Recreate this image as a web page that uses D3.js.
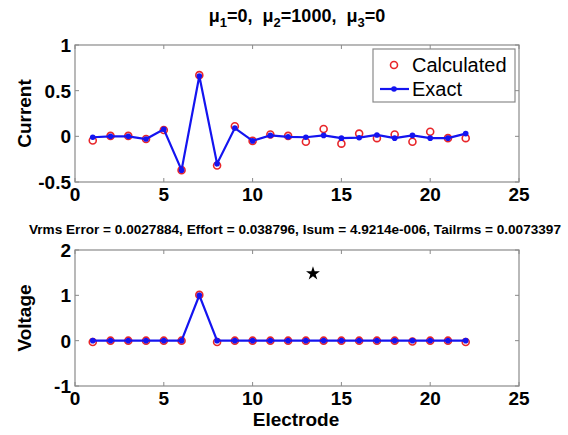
<!DOCTYPE html>
<html><head><meta charset="utf-8">
<script src="https://cdn.jsdelivr.net/npm/d3@7"></script>
<style>
body{margin:0;background:#fff;}
text{font-family:"Liberation Sans",Arial,sans-serif;}
</style></head>
<body>
<svg id="c" width="568" height="435"></svg>
<script>
const electrodes = d3.range(1, 23);
const currentExact = [-0.01,0.0,0.0,-0.03,0.077,-0.37,0.66,-0.30,0.09,-0.05,0.01,-0.005,-0.01,0.01,-0.02,-0.015,0.015,-0.02,0.01,-0.02,-0.02,0.03];
const currentCalc  = [-0.045,0.005,0.005,-0.03,0.07,-0.37,0.67,-0.32,0.11,-0.05,0.02,0.005,-0.06,0.08,-0.08,0.03,-0.02,0.02,-0.06,0.05,-0.02,-0.02];
const voltageExact = [0,0,0,0,0,0,1,0,0,0,0,0,0,0,0,0,0,0,0,0,0,0];
const voltageCalc  = [-0.03,0,0,0,0,0,1.01,-0.03,0,0,0,0,0,0,0,0,0,0,-0.02,0,0,-0.03];
const starPoint = [13.4, 1.48];
const xTicks = [0,5,10,15,20,25];
const currentTicks = [-0.5,0,0.5,1];
const voltageTicks = [-1,0,1,2];
const legendLabels = ["Calculated","Exact"];
const titleText = "Vrms Error = 0.0027884, Effort = 0.038796, Isum = 4.9214e-006, Tailrms = 0.0073397";

const svg = d3.select("#c");
const left = 75, right = 519;
const x = d3.scaleLinear().domain([0,25]).range([left,right]);
const boxColor = "#8a8a8a";
const fs = 19;

function panel(top, bottom, yDom, yTicks, exact, calc, ylabel){
  const y = d3.scaleLinear().domain(yDom).range([bottom, top]);
  const g = svg.append("g");
  g.append("rect").attr("x",left).attr("y",top).attr("width",right-left).attr("height",bottom-top)
    .attr("fill","#fff").attr("stroke",boxColor).attr("stroke-width",1.2);
  const tl = 4;
  xTicks.forEach(t=>{
    g.append("line").attr("x1",x(t)).attr("x2",x(t)).attr("y1",bottom).attr("y2",bottom-tl).attr("stroke",boxColor);
    g.append("line").attr("x1",x(t)).attr("x2",x(t)).attr("y1",top).attr("y2",top+tl).attr("stroke",boxColor);
    g.append("text").attr("x",x(t)).attr("y",bottom+19).attr("text-anchor","middle")
      .attr("font-size",fs).attr("font-weight","bold").text(d3.format("d")(t));
  });
  yTicks.forEach(t=>{
    g.append("line").attr("x1",left).attr("x2",left+tl).attr("y1",y(t)).attr("y2",y(t)).attr("stroke",boxColor);
    g.append("line").attr("x1",right).attr("x2",right-tl).attr("y1",y(t)).attr("y2",y(t)).attr("stroke",boxColor);
    g.append("text").attr("x",left-4).attr("y",y(t)+7).attr("text-anchor","end")
      .attr("font-size",fs).attr("font-weight","bold").text(String(t));
  });
  g.append("text").attr("transform",`translate(31,${(top+bottom)/2}) rotate(-90)`)
    .attr("text-anchor","middle").attr("font-size",fs).attr("font-weight","bold").text(ylabel);
  g.selectAll(".calc").data(calc).join("circle")
    .attr("cx",(d,i)=>x(electrodes[i])).attr("cy",d=>y(d)).attr("r",3.5)
    .attr("fill","none").attr("stroke","#e8262a").attr("stroke-width",1.6);
  const line = d3.line().x((d,i)=>x(electrodes[i])).y(d=>y(d));
  g.append("path").attr("d",line(exact)).attr("fill","none").attr("stroke","#1414f0").attr("stroke-width",2.2);
  g.selectAll(".ex").data(exact).join("circle")
    .attr("cx",(d,i)=>x(electrodes[i])).attr("cy",d=>y(d)).attr("r",2.8).attr("fill","#1414f0");
  return {g,y};
}

const p1 = panel(45, 182, [-0.5,1], currentTicks, currentExact, currentCalc, "Current");
const p2 = panel(250, 386, [-1,2], voltageTicks, voltageExact, voltageCalc, "Voltage");

p2.g.append("path").attr("d", d3.symbol().type(d3.symbolStar).size(60)())
  .attr("transform",`translate(${x(starPoint[0])},${p2.y(starPoint[1])})`).attr("fill","#000");

// legend
const lg = svg.append("g");
lg.append("rect").attr("x",373).attr("y",49).attr("width",142).attr("height",53)
  .attr("fill","#fff").attr("stroke",boxColor).attr("stroke-width",1.2);
lg.append("circle").attr("cx",394).attr("cy",65).attr("r",3.5).attr("fill","none").attr("stroke","#e8262a").attr("stroke-width",1.6);
lg.append("line").attr("x1",380).attr("x2",409).attr("y1",89).attr("y2",89).attr("stroke","#1414f0").attr("stroke-width",2.2);
lg.append("circle").attr("cx",394).attr("cy",89).attr("r",2.8).attr("fill","#1414f0");
lg.append("text").attr("x",412).attr("y",72).attr("font-size",20).text(legendLabels[0]);
lg.append("text").attr("x",412).attr("y",96).attr("font-size",20).text(legendLabels[1]);

// main title with subscripts
const t = svg.append("text").attr("x",297).attr("y",22).attr("text-anchor","middle")
  .attr("font-size",18).attr("font-weight","bold").style("white-space","pre");
const parts = [["μ",""],["1","sub"],["=0,  μ",""],["2","sub"],["=1000,  μ",""],["3","sub"],["=0",""]];
parts.forEach((p,i)=>{
  const s = t.append("tspan").text(p[0]);
  if(p[1]==="sub") s.attr("font-size",13).attr("dy",5);
  else if(i>0) s.attr("dy",-5);
});

svg.append("text").attr("x",295).attr("y",234).attr("text-anchor","middle")
  .attr("font-size",12).attr("font-weight","bold")
  .attr("textLength",532).attr("lengthAdjust","spacingAndGlyphs").text(titleText);

svg.append("text").attr("x",296).attr("y",426).attr("text-anchor","middle")
  .attr("font-size",fs).attr("font-weight","bold").text("Electrode");
</script>
</body></html>
